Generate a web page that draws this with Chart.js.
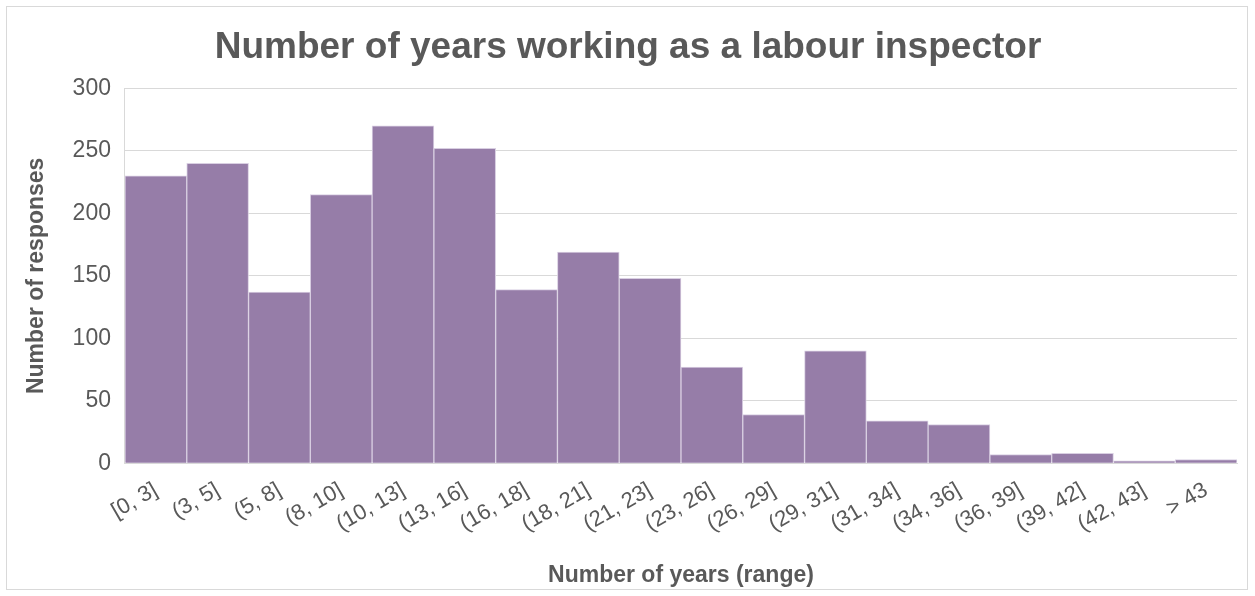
<!DOCTYPE html>
<html>
<head>
<meta charset="utf-8">
<script src="https://cdn.jsdelivr.net/npm/chart.js@4"></script>
<style>
  html, body { margin: 0; padding: 0; background: #fff; }
  #wrap { position: absolute; left: 6px; top: 6px; width: 1242px; height: 584px; border: 1px solid #d9d9d9; box-sizing: border-box; }
</style>
</head>
<body>
<div id="wrap"><canvas id="yearsChart"></canvas></div>
<script>
const categories = ['[0, 3]', '(3, 5]', '(5, 8]', '(8, 10]', '(10, 13]', '(13, 16]', '(16, 18]', '(18, 21]', '(21, 23]',
  '(23, 26]', '(26, 29]', '(29, 31]', '(31, 34]', '(34, 36]', '(36, 39]', '(39, 42]', '(42, 43]', '> 43'];
const responses = [230, 240, 137, 215, 270, 252, 139, 169, 148, 77, 39, 90, 34, 31, 7, 8, 2, 3];
const yTicks = [0, 50, 100, 150, 200, 250, 300];

const grey = '#595959';
const fam = 'Liberation Sans, Arial, sans-serif';
const ctx = document.getElementById('yearsChart').getContext('2d');
new Chart(ctx, {
  type: 'bar',
  data: {
    labels: categories,
    datasets: [{
      label: 'Number of responses',
      data: responses,
      backgroundColor: '#967da8',
      borderColor: '#d9cfe2',
      borderWidth: 1,
      categoryPercentage: 1,
      barPercentage: 1
    }]
  },
  options: {
    responsive: true,
    maintainAspectRatio: false,
    animation: false,
    layout: { padding: { left: 12, right: 10, top: 2, bottom: 0 } },
    plugins: {
      legend: { display: false },
      tooltip: { enabled: false },
      title: {
        display: true,
        text: 'Number of years working as a labour inspector',
        color: grey,
        font: { family: fam, size: 37, weight: 'bold' },
        padding: { top: 17, bottom: 18 }
      }
    },
    scales: {
      x: {
        grid: { display: false },
        border: { color: '#d9d9d9' },
        ticks: {
          color: grey,
          minRotation: 30,
          maxRotation: 30,
          padding: 6,
          font: { family: fam, size: 22 }
        },
        title: {
          display: true,
          text: 'Number of years (range)',
          color: grey,
          font: { family: fam, size: 23, weight: 'bold' },
          padding: { top: 18, bottom: 0 }
        }
      },
      y: {
        min: 0,
        max: 300,
        afterBuildTicks: axis => { axis.ticks = yTicks.map(v => ({ value: v })); },
        grid: { color: '#d9d9d9', drawTicks: false },
        border: { color: '#d9d9d9' },
        ticks: {
          color: grey,
          padding: 14,
          font: { family: fam, size: 23 }
        },
        title: {
          display: true,
          text: 'Number of responses',
          color: grey,
          font: { family: fam, size: 23, weight: 'bold' },
          padding: { bottom: 8 }
        }
      }
    }
  }
});
</script>
</body>
</html>
